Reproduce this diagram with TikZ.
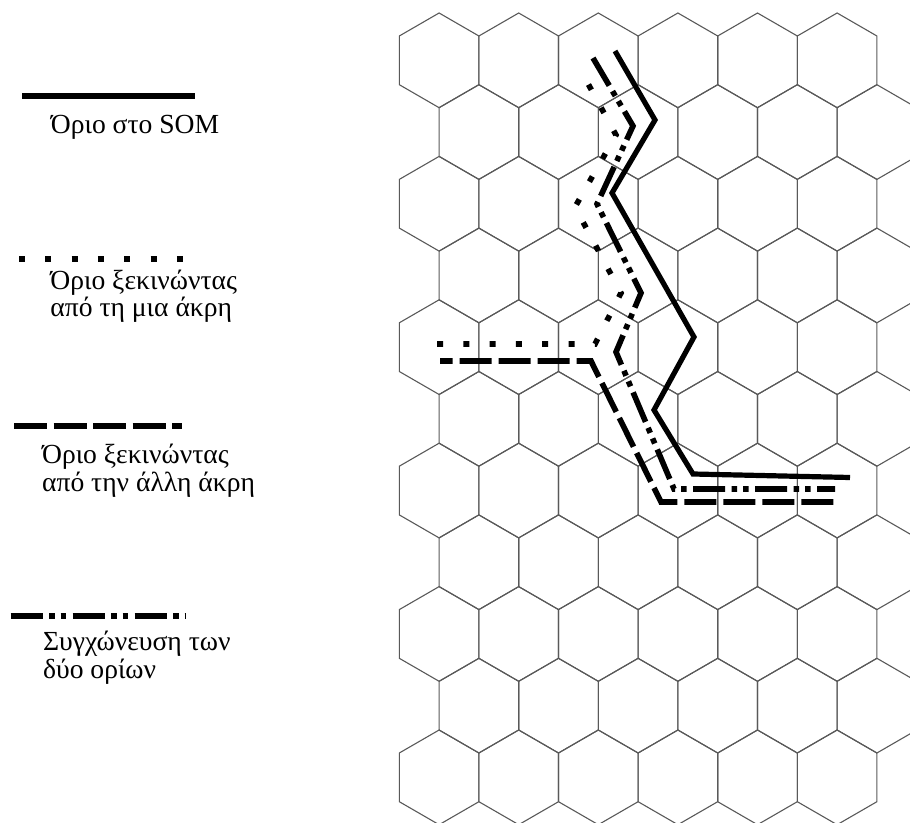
\documentclass[tikz,border=0pt]{standalone}
\usepackage{fontspec}
\setmainfont{Liberation Serif}
\begin{document}
\begin{tikzpicture}[x=0.5pt,y=-0.5pt,line join=miter,
    hexline/.style={draw=black!65,line width=0.55pt},
    somline/.style={line width=2.6pt},
    oneend/.style={line width=2.8pt,dash pattern=on 3pt off 10.15pt},
    otherend/.style={line width=2.8pt,dash pattern=on 16pt off 3.5pt},
    mergeline/.style={line width=2.8pt,dash pattern=on 16pt off 3.25pt on 2.75pt off 3pt on 2.75pt off 3.25pt},
    legtext/.style={anchor=base west,align=left,inner sep=0pt,font=\fontsize{13.8}{13.7}\selectfont}]
			% --- Όρια εικόνας ---
			\useasboundingbox (0,0) rectangle (910,823);
			
			% --- Διαστάσεις εξαγώνων ---
			\def\hexx{399.3} \def\hexy{13}
			\def\hexw{79.6} \def\hext{23}
			\def\hexs{48.7} \def\hexp{71.7}
			
			% --- Εξαγωνικό πλέγμα SOM ---
			\begin{scope}
				\clip (0,0) rectangle (910,823);
				\foreach \r in {0,...,10}{
					\pgfmathsetmacro{\xo}{\hexx+mod(\r,2)*\hexw/2}
					\pgfmathsetmacro{\yo}{\hexy+\r*\hexp}
					\foreach \c in {0,...,5}{
						\draw[hexline] ({\xo+\c*\hexw+\hexw/2},\yo) -- ++(\hexw/2,\hext) -- ++(0,\hexs)
							-- ++(-\hexw/2,\hext) -- ++(-\hexw/2,-\hext) -- ++(0,-\hexs) -- cycle;
					}
				}
			\end{scope}
			
			% --- Όρια πάνω στο πλέγμα ---
			% Όριο στο SOM
			\draw[somline] (615,51) -- (655,120) -- (612,193) -- (694,337) -- (654,410) -- (693,474) -- (850,477.5);
			% Συγχώνευση
			\draw[mergeline] (593,58) -- (633,126) -- (597,204) -- (641,293) -- (616,352) -- (674,489) -- (835,489);
			% Από τη μια άκρη
			\draw[oneend] (437,344) -- (595,344) -- (621,293) -- (575,207) -- (616,135) -- (580,69);
			% Από την άλλη άκρη
			\draw[otherend,dash phase=9.65pt] (440,361) -- (591,361) -- (661,502) -- (837,502);
			
			% --- Υπόμνημα ---
			\draw[somline,line width=3pt] (22,96) -- (195,96);
			\node[legtext] (lblsom) at (50.5,134) {Όριο στο SOM};
			
			\draw[oneend] (19,259) -- (183,259);
			\node[legtext] (lblone) at (50,317) {Όριο ξεκινώντας\\από τη μια άκρη};
			
			\draw[otherend,dash pattern=on 16.5pt off 3.25pt] (14,426) -- (182,426);
			\node[legtext] (lbltwo) at (41.7,491) {Όριο ξεκινώντας\\από την άλλη άκρη};
			
			\draw[mergeline] (10.7,616) -- (185,616);
			\node[legtext] (lblmerge) at (42.7,678) {Συγχώνευση των\\δύο ορίων};
		\end{tikzpicture}
\end{document}
